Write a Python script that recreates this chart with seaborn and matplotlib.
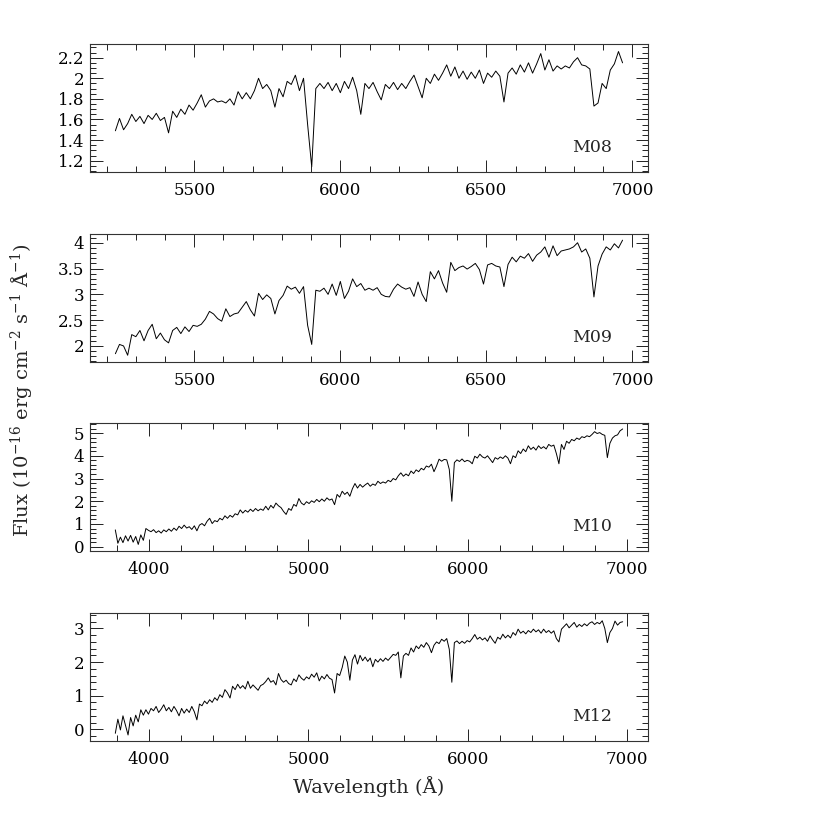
import numpy as np
import matplotlib
matplotlib.use('Agg')
import matplotlib.pyplot as plt
from matplotlib.ticker import MultipleLocator, FuncFormatter
import seaborn as sns

# spectra sampled on uniform wavelength grids (Angstrom)
wl_red = np.arange(5230, 6967, 14)      # M08, M09
wl_full = np.arange(3788, 6973, 16)     # M10, M12

flux_m08 = [
    1.49, 1.61, 1.50, 1.56, 1.65, 1.58, 1.63, 1.56, 1.64, 1.60,
    1.66, 1.59, 1.62, 1.47, 1.68, 1.62, 1.70, 1.65, 1.74, 1.69,
    1.76, 1.84, 1.72, 1.78, 1.80, 1.77, 1.78, 1.76, 1.80, 1.74,
    1.87, 1.80, 1.86, 1.80, 1.88, 2.00, 1.90, 1.94, 1.88, 1.72,
    1.90, 1.82, 1.97, 1.94, 2.03, 1.88, 2.00, 1.55, 1.14, 1.90,
    1.95, 1.90, 1.96, 1.88, 1.95, 1.86, 1.97, 1.90, 2.01, 1.88,
    1.65, 1.95, 1.90, 1.96, 1.87, 1.79, 1.94, 1.90, 1.96, 1.89,
    1.95, 1.90, 1.97, 2.03, 1.92, 1.81, 2.00, 1.95, 2.04, 1.98,
    2.05, 2.13, 2.02, 2.11, 2.00, 2.07, 1.99, 2.06, 2.00, 2.08,
    1.95, 2.05, 2.01, 2.07, 2.02, 1.77, 2.05, 2.10, 2.04, 2.13,
    2.06, 2.15, 2.05, 2.14, 2.24, 2.08, 2.18, 2.07, 2.12, 2.09,
    2.12, 2.10, 2.16, 2.20, 2.13, 2.12, 2.09, 1.73, 1.76, 1.95,
    1.90, 2.08, 2.14, 2.26, 2.15,
]

flux_m09 = [
    1.85, 2.03, 2.00, 1.82, 2.22, 2.18, 2.30, 2.10, 2.30, 2.42,
    2.14, 2.25, 2.12, 2.06, 2.30, 2.36, 2.24, 2.37, 2.28, 2.40,
    2.38, 2.42, 2.52, 2.67, 2.62, 2.53, 2.48, 2.72, 2.57, 2.62,
    2.64, 2.75, 2.86, 2.70, 2.58, 3.02, 2.90, 2.99, 2.92, 2.62,
    2.88, 2.98, 3.16, 3.10, 3.14, 3.02, 3.15, 2.40, 2.03, 3.08,
    3.06, 3.12, 3.00, 3.20, 2.98, 3.25, 2.92, 3.06, 3.30, 3.15,
    3.21, 3.08, 3.12, 3.08, 3.13, 3.00, 2.96, 2.95, 3.10, 3.20,
    3.14, 3.10, 3.13, 2.96, 3.24, 3.00, 2.86, 3.44, 3.30, 3.46,
    3.22, 3.04, 3.62, 3.46, 3.52, 3.55, 3.49, 3.54, 3.60, 3.48,
    3.20, 3.57, 3.60, 3.55, 3.53, 3.15, 3.58, 3.72, 3.63, 3.74,
    3.70, 3.79, 3.64, 3.76, 3.82, 3.92, 3.72, 3.94, 3.75, 3.84,
    3.86, 3.88, 3.92, 4.00, 3.82, 3.88, 3.70, 2.95, 3.55, 3.78,
    3.92, 3.86, 3.98, 3.90, 4.05,
]

flux_m10 = [
    0.74, 0.15, 0.42, 0.18, 0.48, 0.25, 0.50, 0.20, 0.45, 0.10,
    0.52, 0.28, 0.80, 0.72, 0.66, 0.75, 0.62, 0.70, 0.60, 0.74,
    0.66, 0.78, 0.68, 0.82, 0.72, 0.90, 0.80, 0.95, 0.82, 0.88,
    0.76, 0.92, 0.70, 0.95, 1.02, 0.92, 1.12, 1.25, 1.02, 1.15,
    1.10, 1.25, 1.18, 1.36, 1.25, 1.38, 1.30, 1.45, 1.40, 1.62,
    1.48, 1.60, 1.52, 1.65, 1.55, 1.68, 1.58, 1.66, 1.60, 1.78,
    1.62, 1.82, 1.70, 1.92, 1.80, 1.72, 1.55, 1.42, 1.68, 1.60,
    1.86, 1.78, 2.12, 1.92, 1.84, 1.98, 1.90, 2.02, 1.95, 2.08,
    1.98, 2.10, 2.00, 2.15, 2.05, 2.10, 1.85, 2.30, 2.18, 2.44,
    2.30, 2.40, 2.22, 2.55, 2.78, 2.58, 2.74, 2.62, 2.72, 2.80,
    2.66, 2.76, 2.70, 2.88, 2.78, 2.85, 2.80, 2.92, 2.86, 3.00,
    2.94, 3.12, 3.25, 3.10, 3.20, 3.12, 3.33, 3.22, 3.38, 3.30,
    3.45, 3.38, 3.55, 3.50, 3.63, 3.30, 3.55, 3.85, 3.76, 3.84,
    3.82, 3.40, 2.00, 3.70, 3.82, 3.75, 3.86, 3.74, 3.80, 3.76,
    3.65, 3.98, 3.90, 4.07, 3.95, 3.90, 4.00, 3.85, 3.70, 3.92,
    3.85, 3.95, 3.88, 4.00, 3.90, 3.65, 4.00, 3.92, 4.22, 4.10,
    4.30, 4.18, 4.44, 4.28, 4.38, 4.25, 4.44, 4.32, 4.40, 4.30,
    4.50, 4.42, 4.47, 4.10, 3.65, 4.50, 4.28, 4.64, 4.55, 4.72,
    4.66, 4.78, 4.72, 4.84, 4.80, 4.88, 4.84, 4.94, 5.06, 4.98,
    5.02, 4.94, 4.90, 3.92, 4.55, 4.78, 4.88, 4.92, 5.10, 5.18,
]

flux_m12 = [
    -0.12, 0.30, -0.02, 0.40, 0.12, -0.17, 0.35, 0.10, 0.42, 0.22,
    0.58, 0.42, 0.58, 0.45, 0.62, 0.55, 0.68, 0.50, 0.60, 0.73,
    0.55, 0.65, 0.52, 0.68, 0.56, 0.40, 0.62, 0.48, 0.60, 0.50,
    0.68, 0.52, 0.28, 0.75, 0.70, 0.84, 0.76, 0.88, 0.80, 0.94,
    0.86, 1.03, 0.95, 1.18, 1.08, 0.93, 1.28, 1.18, 1.34, 1.22,
    1.30, 1.20, 1.43, 1.22, 1.32, 1.24, 1.16, 1.30, 1.34, 1.42,
    1.53, 1.40, 1.45, 1.32, 1.66, 1.48, 1.40, 1.46, 1.36, 1.32,
    1.50, 1.42, 1.62, 1.52, 1.46, 1.56, 1.50, 1.64, 1.55, 1.68,
    1.44, 1.58, 1.50, 1.63, 1.52, 1.48, 1.08, 1.66, 1.60, 1.84,
    2.18, 2.00, 1.46, 2.06, 2.22, 1.94, 2.20, 2.04, 2.15, 2.02,
    2.12, 1.86, 2.08, 2.00, 2.10, 2.02, 2.12, 2.05, 2.14, 2.23,
    2.20, 2.30, 1.53, 2.18, 2.26, 2.20, 2.42, 2.30, 2.48, 2.40,
    2.52, 2.44, 2.58, 2.48, 2.28, 2.50, 2.60, 2.55, 2.68, 2.62,
    2.70, 2.38, 1.40, 2.58, 2.63, 2.55, 2.62, 2.56, 2.64, 2.60,
    2.70, 2.82, 2.68, 2.74, 2.66, 2.72, 2.62, 2.78, 2.66, 2.56,
    2.74, 2.68, 2.83, 2.72, 2.80, 2.72, 2.88, 2.80, 2.98, 2.86,
    2.92, 2.84, 2.94, 2.88, 2.98, 2.90, 2.96, 2.86, 2.98, 2.88,
    2.94, 2.86, 2.93, 2.70, 2.60, 2.98, 3.06, 3.14, 3.02, 3.10,
    3.18, 3.04, 3.12, 3.06, 3.14, 3.08, 3.16, 3.20, 3.12, 3.18,
    3.14, 3.23, 3.00, 2.58, 2.88, 3.00, 3.22, 3.10, 3.18, 3.20,
]

names = ['M08', 'M09', 'M10', 'M12']

sns.set_style('ticks')
plt.rcParams['font.family'] = ['DejaVu Serif']
plt.rcParams['mathtext.fontset'] = 'dejavuserif'
plt.rcParams['font.size'] = 12

fig = plt.figure(figsize=(8.3, 8.3), dpi=100)

panels = [
    (wl_red, flux_m08, 0.7928, (5143, 7053), (1.09, 2.333), 500, 100, 0.2, 0.05),
    (wl_red, flux_m09, 0.5639, (5143, 7053), (1.69, 4.17), 500, 100, 0.5, 0.1),
    (wl_full, flux_m10, 0.3361, (3629, 7131), (-0.19, 5.44), 1000, 200, 1, 0.2),
    (wl_full, flux_m12, 0.1072, (3629, 7131), (-0.35, 3.46), 1000, 200, 1, 0.2),
]

fmt = FuncFormatter(lambda v, p: '%g' % round(v, 6))

for (wl, fl, bot, xl, yl, xmaj, xmin, ymaj, ymin), name in zip(panels, names):
    ax = fig.add_axes([0.1084, bot, 0.6723, 0.1542])
    sns.lineplot(x=wl, y=fl, ax=ax, color='black', linewidth=0.7,
                 estimator=None, sort=False)
    ax.set_xlim(*xl)
    ax.set_ylim(*yl)
    ax.xaxis.set_major_locator(MultipleLocator(xmaj))
    ax.xaxis.set_minor_locator(MultipleLocator(xmin))
    ax.yaxis.set_major_locator(MultipleLocator(ymaj))
    ax.yaxis.set_minor_locator(MultipleLocator(ymin))
    ax.yaxis.set_major_formatter(fmt)
    ax.tick_params(which='both', direction='in', top=True, right=True,
                   width=0.7, colors='#222222', labelcolor='black')
    ax.tick_params(which='major', length=9)
    ax.tick_params(which='minor', length=4.5)
    ax.tick_params(axis='x', which='major', pad=7)
    ax.tick_params(axis='y', which='major', pad=4)
    for s in ax.spines.values():
        s.set_linewidth(0.8)
        s.set_color('#333333')
    ax.set_xlabel('')
    ax.set_ylabel('')
    ax.text(0.935, 0.19, name, transform=ax.transAxes,
            ha='right', va='center', fontsize=12.5)

fig.text(0.0265, 0.53,
         r'Flux (10$^{-16}$ erg cm$^{-2}$ s$^{-1}$ Å$^{-1}$)',
         rotation=90, ha='center', va='center', fontsize=14)
fig.text(0.4437, 0.052, 'Wavelength (Å)', ha='center', va='center', fontsize=14)

fig.savefig('out.png', dpi=100, facecolor='white')
